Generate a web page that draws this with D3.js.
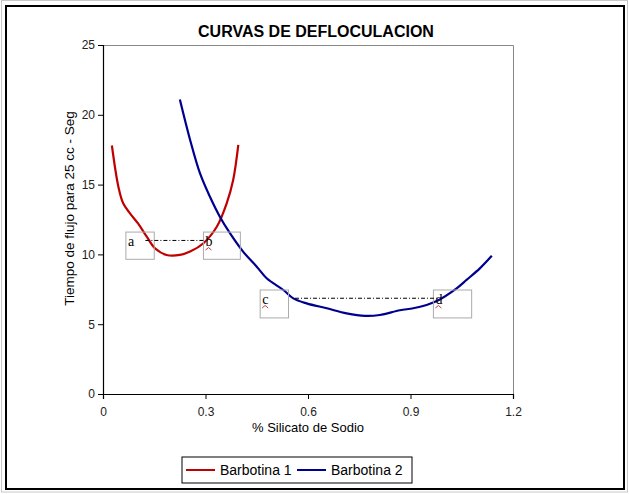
<!DOCTYPE html>
<html>
<head>
<meta charset="utf-8">
<script src="https://cdn.jsdelivr.net/npm/d3@7"></script>
<style>
  body { margin: 0; background: #fff; }
  svg { display: block; font-family: "Liberation Sans", Arial, sans-serif; }
</style>
</head>
<body>
<div id="chart"></div>
<script>
// Barbotina 1 (red) — % silicato vs tiempo de flujo
var b1X = [0.026, 0.045, 0.059, 0.079, 0.103, 0.128, 0.152, 0.186, 0.225, 0.255, 0.294, 0.333, 0.362, 0.381, 0.396];
var b1Y = [17.8, 14.85, 13.66, 12.94, 12.2, 11.27, 10.44, 9.96, 9.96, 10.2, 10.8, 11.98, 13.66, 15.33, 17.84];

// Barbotina 2 (blue)
var b2X = [0.225, 0.255, 0.284, 0.313, 0.342, 0.372, 0.41, 0.45, 0.479, 0.528, 0.557, 0.596, 0.655, 0.713, 0.767, 0.81, 0.869, 0.908, 0.947, 0.977, 1.035, 1.064, 1.103, 1.138];
var b2Y = [21.1, 18.2, 15.8, 14.13, 12.7, 11.5, 10.2, 9.12, 8.29, 7.45, 6.85, 6.49, 6.14, 5.78, 5.6, 5.66, 6.0, 6.14, 6.38, 6.66, 7.57, 8.17, 9.0, 9.9];

var seriesNames = ["Barbotina 1", "Barbotina 2"];
var seriesColors = ["#c00000", "#000090"];

var xTicks = [0, 0.3, 0.6, 0.9, 1.2];
var yTicks = [0, 5, 10, 15, 20, 25];

// annotation boxes: letter, x0, x1, yTop, yBottom (data units)
var boxLabels = ["a", "b", "c", "d"];
var boxX0 = [0.067, 0.294, 0.460, 0.967];
var boxX1 = [0.150, 0.402, 0.543, 1.079];
var boxYTop = [11.6, 11.6, 7.45, 7.45];
var boxYBot = [9.65, 9.65, 5.45, 5.45];

// dash-dot connectors
var linkX0 = [0.124, 0.562];
var linkX1 = [0.299, 0.977];
var linkY = [11.0, 6.86];

var W = 629, H = 494;
var margin = { top: 45, right: 116, bottom: 100, left: 103 };
var w = W - margin.left - margin.right;
var h = H - margin.top - margin.bottom;

var root = d3.select("#chart").append("svg").attr("width", W).attr("height", H);

// window edge and chart frame
root.append("rect").attr("x", 1.5).attr("y", 0.5).attr("width", 626).attr("height", 491.5)
    .attr("fill", "none").attr("stroke", "#c8c8c8");
root.append("rect").attr("x", 6).attr("y", 6).attr("width", 618).attr("height", 483)
    .attr("fill", "none").attr("stroke", "#000").attr("stroke-width", 2);

root.append("text").attr("x", 316).attr("y", 37).attr("text-anchor", "middle")
    .attr("font-size", "16px").attr("font-weight", "bold").text("CURVAS DE DEFLOCULACION");

var svg = root.append("g").attr("transform", "translate(" + margin.left + "," + margin.top + ")");

var x = d3.scaleLinear().domain([0, 1.2]).range([0, w]);
var y = d3.scaleLinear().domain([0, 25]).range([h, 0]);

// plot area top/right edges
svg.append("path").attr("d", "M0,0.5H" + (w + 0.5) + "V" + h)
    .attr("fill", "none").attr("stroke", "#888");

var xAxis = svg.append("g").attr("transform", "translate(0," + h + ")")
    .call(d3.axisBottom(x).tickValues(xTicks).tickSize(5).tickPadding(8)
        .tickFormat(function (d) { return d === 0 ? "0" : String(d); }));
var yAxis = svg.append("g")
    .call(d3.axisLeft(y).tickValues(yTicks).tickSize(5).tickPadding(3));
[xAxis, yAxis].forEach(function (a) {
    a.select(".domain").attr("stroke", "#000").attr("stroke-width", 1.2);
    a.selectAll(".tick line").attr("stroke", "#000");
    a.selectAll("text").attr("font-size", "12px").attr("fill", "#222")
        .attr("font-family", "Liberation Sans, Arial, sans-serif");
});

svg.append("text").attr("x", x(0.6)).attr("y", h + 38).attr("text-anchor", "middle")
    .attr("font-size", "13px").text("% Silicato de Sodio");
svg.append("text").attr("transform", "translate(-29," + (h / 2 - 11) + ") rotate(-90)")
    .attr("text-anchor", "middle").attr("font-size", "13.5px").text("Tiempo de flujo para 25 cc  - Seg");

var line = d3.line()
    .x(function (d) { return x(d[0]); })
    .y(function (d) { return y(d[1]); })
    .curve(d3.curveCatmullRom);

var data = [d3.zip(b1X, b1Y), d3.zip(b2X, b2Y)];
svg.selectAll(".series").data(data).enter().append("path")
    .attr("class", "series")
    .attr("d", line)
    .attr("fill", "none")
    .attr("stroke", function (d, i) { return seriesColors[i]; })
    .attr("stroke-width", 2.2);

// annotation boxes
boxLabels.forEach(function (lab, i) {
    svg.append("rect")
        .attr("x", x(boxX0[i])).attr("y", y(boxYTop[i]))
        .attr("width", x(boxX1[i]) - x(boxX0[i]))
        .attr("height", y(boxYBot[i]) - y(boxYTop[i]))
        .attr("fill", "none").attr("stroke", "#aaa");
    var tx = x(boxX0[i]) + 2, ty = y(boxYTop[i]) + 14;
    svg.append("text").attr("x", tx).attr("y", ty)
        .attr("font-family", "Liberation Serif, Times New Roman, serif")
        .attr("font-size", "14px").text(lab);
    if (i > 0) {
        svg.append("path")
            .attr("d", "M" + (tx) + "," + (ty + 4) + "l3,-2.5l3,2.5")
            .attr("fill", "none").attr("stroke", "#c00000").attr("stroke-width", 0.8);
    }
});

linkY.forEach(function (v, i) {
    svg.append("line")
        .attr("x1", x(linkX0[i])).attr("x2", x(linkX1[i]))
        .attr("y1", y(v)).attr("y2", y(v))
        .attr("stroke", "#000").attr("stroke-dasharray", "4,2,1,2");
});

// legend
var lg = root.append("g").attr("transform", "translate(182,457)");
lg.append("rect").attr("width", 230).attr("height", 26)
    .attr("fill", "#fff").attr("stroke", "#000");
var lgX = [4, 115];
seriesNames.forEach(function (n, i) {
    lg.append("line").attr("x1", lgX[i]).attr("x2", lgX[i] + 29)
        .attr("y1", 13).attr("y2", 13)
        .attr("stroke", seriesColors[i]).attr("stroke-width", 2);
    lg.append("text").attr("x", lgX[i] + 34).attr("y", 18)
        .attr("font-size", "14px").text(n);
});
</script>
</body>
</html>
